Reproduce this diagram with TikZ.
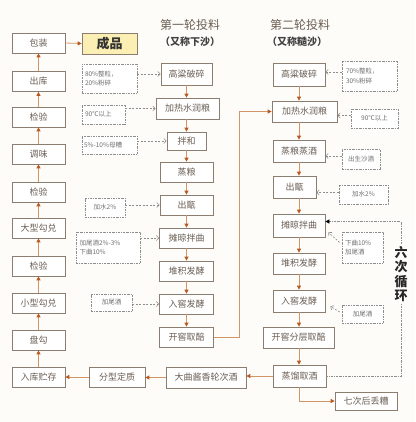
\documentclass[tikz,border=0pt]{standalone}
\usepackage{fontspec}
\setmainfont{Noto Sans CJK SC}
\usetikzlibrary{arrows.meta}
\definecolor{bg}{HTML}{FDFCF8}
\definecolor{boxline}{HTML}{8B7D70}
\definecolor{boxtext}{HTML}{6B5F55}
\definecolor{orline}{HTML}{D39565}
\definecolor{orhead}{HTML}{B85A20}
\definecolor{dgray}{HTML}{8D8D8D}
\definecolor{antext}{HTML}{707070}
\definecolor{yfill}{HTML}{FCEFB3}
\tikzset{
  box/.style={draw=boxline, line width=0.7pt, fill=white, text=boxtext, font=\fontsize{9}{10}\selectfont, inner sep=0pt, minimum width=53pt, minimum height=20pt},
  note/.style={draw=dgray, line width=0.6pt, dash pattern=on 2pt off 1pt on 0.6pt off 1pt, fill=white, text=antext, font=\fontsize{6.5}{9.5}\selectfont, align=left, inner sep=0pt},
  arr/.style={draw=orline, line width=0.8pt, -{Triangle[length=4pt,width=4pt,color=orhead]}},
  darr/.style={draw=dgray, line width=0.6pt, dash pattern=on 2pt off 1.5pt, -{Straight Barb[length=2.5pt,width=5pt]}},
  loopline/.style={draw=dgray, line width=0.6pt, dash pattern=on 2pt off 1pt on 0.6pt off 1pt, -{Triangle[length=4pt,width=4pt,color=black]}},
  ttl/.style={text=boxtext, font=\fontsize{12}{13}\selectfont, inner sep=0pt},
  sub/.style={text=black!75, font=\fontsize{10}{11}\selectfont\bfseries, inner sep=0pt}
}
\begin{document}
\begin{tikzpicture}[x=1pt,y=-1pt]
\useasboundingbox (0,0) rectangle (415,422);
\fill[bg] (0,0) rectangle (415,422);

% left column
\node[box] (a1) at (38.5,43) {包装};
\node[box] (a2) at (38.5,81.5) {出库};
\node[box] (a3) at (38.5,117) {检验};
\node[box] (a4) at (38.5,154) {调味};
\node[box] (a5) at (38.5,192) {检验};
\node[box] (a6) at (38.5,228) {大型勾兑};
\node[box] (a7) at (38.5,266) {检验};
\node[box] (a8) at (38.5,303) {小型勾兑};
\node[box] (a9) at (38.5,340) {盘勾};
\node[box] (a10) at (38.5,377) {入库贮存};
\node[box, fill=yfill, minimum width=55pt, minimum height=21pt, text=black!80, font=\fontsize{13}{14}\selectfont\bfseries] (cp) at (109.5,43.5) {成品};

% titles
\node[ttl] (t1) at (190,25) {第一轮投料};
\node[sub] (t1s) at (190,42) {（又称下沙）};
\node[ttl] (t2) at (300,25) {第二轮投料};
\node[sub] (t2s) at (297,42) {（又称糙沙）};

% first round
\node[box, minimum width=51pt, minimum height=22pt] (b1) at (186.5,74) {高粱破碎};
\node[box, minimum width=63pt, minimum height=21pt] (b2) at (187.5,108.5) {加热水润粮};
\node[box, minimum width=39pt, minimum height=18pt] (b3) at (186.5,141) {拌和};
\node[box] (b4) at (186.5,172) {蒸粮};
\node[box] (b5) at (186.5,205) {出甑};
\node[box, minimum width=54pt] (b6) at (186.5,238) {摊晾拌曲};
\node[box, minimum width=54pt] (b7) at (186.5,271) {堆积发酵};
\node[box, minimum width=54pt] (b8) at (186.5,304) {入窖发酵};
\node[box, minimum width=54pt] (b9) at (186.5,337) {开窖取醅};
\node[box, minimum width=80pt, minimum height=21pt] (m1) at (206,377.5) {大曲酱香轮次酒};
\node[box, minimum width=56pt] (m2) at (117,377) {分型定质};

% second round
\node[box, minimum width=52pt, minimum height=23pt] (c1) at (299,74.5) {高粱破碎};
\node[box, minimum width=65pt, minimum height=21pt] (c2) at (304.5,111.5) {加热水润粮};
\node[box, minimum width=52pt, minimum height=22pt] (c3) at (299,151) {蒸粮蒸酒};
\node[box, minimum width=43pt, minimum height=22pt] (c4) at (294.5,187) {出甑};
\node[box, minimum width=52pt, minimum height=23pt] (c5) at (299,225.5) {摊晾拌曲};
\node[box, minimum width=52pt, minimum height=21pt] (c6) at (299,263.5) {堆积发酵};
\node[box, minimum width=52pt, minimum height=22pt] (c7) at (299,301) {入窖发酵};
\node[box, minimum width=71pt, minimum height=21pt] (c8) at (298.5,337.5) {开窖分层取醅};
\node[box, minimum width=53pt, minimum height=22pt] (c9) at (299.5,376) {蒸馏取酒};
\node[box, minimum width=62pt, minimum height=18pt] (c10) at (366,401) {七次后丢糟};

% notes, first round
\node[note, minimum width=55pt, minimum height=29pt, text width=49pt] (n1) at (109.5,78.5) {80\%整粒，\\20\%粉碎};
\node[note, minimum width=43pt, minimum height=19pt, text width=37pt] (n2) at (103.5,114.5) {90℃以上};
\node[note, minimum width=55pt, minimum height=18pt, text width=51pt] (n3) at (109.5,145) {5\%-10\%母糟};
\node[note, minimum width=40pt, minimum height=19pt, align=center] (n4) at (105,207.5) {加水2\%};
\node[note, minimum width=64pt, minimum height=31pt, text width=57pt] (n5) at (108,247.5) {加尾酒2\%-3\%\\下曲10\%};
\node[note, minimum width=41pt, minimum height=17pt, align=center] (n6) at (111.5,302.5) {加尾酒};

% notes, second round
\node[note, minimum width=55pt, minimum height=30pt, text width=47pt] (p1) at (369.5,76) {70\%整粒，\\30\%粉碎};
\node[note, minimum width=47pt, minimum height=19pt, align=center] (p2) at (374.5,118.5) {90℃以上};
\node[note, minimum width=38pt, minimum height=20pt, align=center] (p3) at (361,159) {出生沙酒};
\node[note, minimum width=49pt, minimum height=19pt, align=center] (p4) at (363.5,194.5) {加水2\%};
\node[note, minimum width=41pt, minimum height=31pt, text width=35pt] (p5) at (362.5,247.5) {下曲10\%\\加尾酒};
\node[note, minimum width=41pt, minimum height=18pt, align=center] (p6) at (362.5,314) {加尾酒};

% left column arrows (upward)
\draw[arr] (a2.north) -- (a1.south);
\draw[arr] (a3.north) -- (a2.south);
\draw[arr] (a4.north) -- (a3.south);
\draw[arr] (a5.north) -- (a4.south);
\draw[arr] (a6.north) -- (a5.south);
\draw[arr] (a7.north) -- (a6.south);
\draw[arr] (a8.north) -- (a7.south);
\draw[arr] (a9.north) -- (a8.south);
\draw[arr] (a10.north) -- (a9.south);
\draw[arr] (a1.east) -- (cp.west);

% first round arrows
\draw[arr] (b1.south) -- (b2.north -| b1.south);
\draw[arr] (b2.south -| b1.south) -- (b3.north -| b1.south);
\draw[arr] (b3.south -| b1.south) -- (b4.north -| b1.south);
\draw[arr] (b4.south -| b1.south) -- (b5.north -| b1.south);
\draw[arr] (b5.south -| b1.south) -- (b6.north -| b1.south);
\draw[arr] (b6.south -| b1.south) -- (b7.north -| b1.south);
\draw[arr] (b7.south -| b1.south) -- (b8.north -| b1.south);
\draw[arr] (b8.south -| b1.south) -- (b9.north -| b1.south);
\draw[arr] (b9.east) -- ++(26,0) |- (c2.west);

% second round arrows
\draw[arr] (c1.south) -- (c2.north -| c1.south);
\draw[arr] (c2.south -| c1.south) -- (c3.north -| c1.south);
\draw[arr] (c3.south -| c1.south) -- (c4.north -| c1.south);
\draw[arr] (c4.south -| c1.south) -- (c5.north -| c1.south);
\draw[arr] (c5.south -| c1.south) -- (c6.north -| c1.south);
\draw[arr] (c6.south -| c1.south) -- (c7.north -| c1.south);
\draw[arr] (c7.south -| c1.south) -- (c8.north -| c1.south);
\draw[arr] (c8.south -| c1.south) -- (c9.north -| c1.south);
\draw[arr] (c9.south) |- (c10.west);
\draw[arr] (c9.west) -- (c9.west -| m1.east);
\draw[arr] (m1.west) -- (m1.west -| m2.east);
\draw[arr] (m2.west) -- (m2.west -| a10.east);

% dashed note arrows, first round
\draw[darr] (n1.east |- b1.west) -- (b1.west);
\draw[darr] (n2.east |- b2.west) -- (b2.west);
\draw[darr] (n3.east |- b3.west) -- (b3.west);
\draw[darr] (n4.east |- b5.west) -- (b5.west);
\draw[darr] (n5.east |- b6.west) -- (b6.west);
\draw[darr] (n6.east |- b8.west) -- (b8.west);

% dashed note arrows, second round
\draw[darr] ([yshift=4pt]p1.west) -- ([yshift=4pt]p1.west -| c1.east);
\draw[darr] ([yshift=3pt]p2.west) -- ([yshift=3pt]p2.west -| c2.east);
\draw[darr] ([yshift=3pt]p3.west) -- ([yshift=3pt]p3.west -| c3.east);
\draw[darr] ([yshift=2pt]p4.west) -- ([yshift=2pt]p4.west -| c4.east);
\draw[darr] ([xshift=-2pt,yshift=5pt]p5.west) -- ([xshift=3pt,yshift=5pt]c5.south east);
\draw[darr] ([xshift=-2pt,yshift=2pt]p6.west) -- ([xshift=5pt,yshift=6pt]c7.south east);

% loop
\coordinate (lp) at (401,376);
\draw[loopline] (c9.east) -- (lp) |- ([yshift=4pt]c5.east);
\node[fill=bg, inner sep=1pt, align=center, text=black!85, font=\fontsize{13}{14.5}\selectfont\bfseries] (lt) at (401,274) {六\\次\\循\\环};
\end{tikzpicture}
\end{document}
